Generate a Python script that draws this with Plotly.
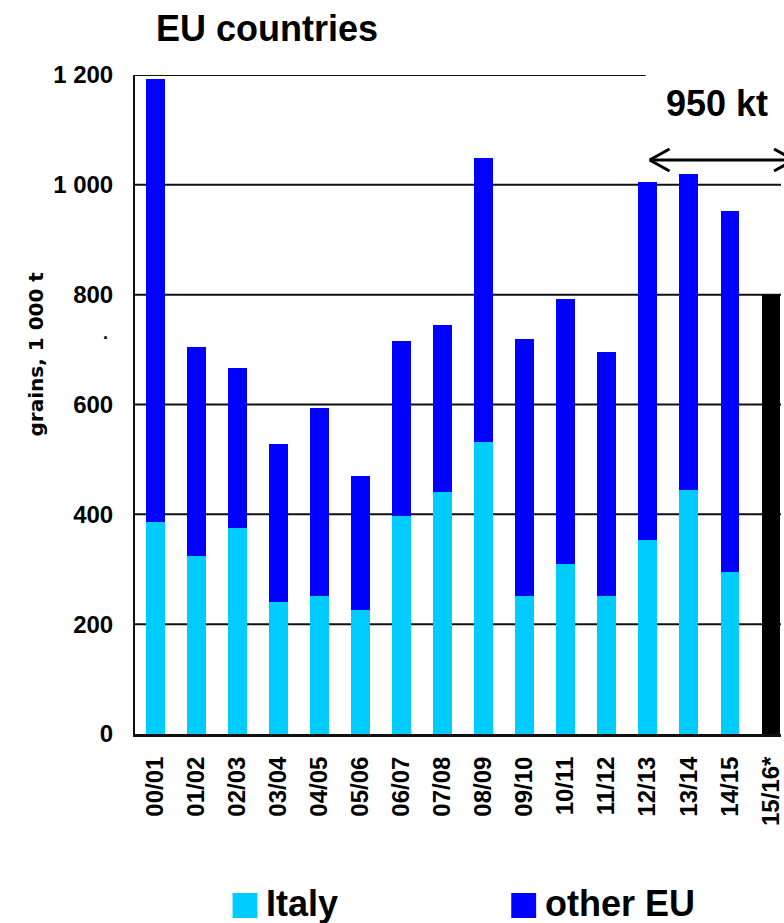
import plotly.graph_objects as go

# Marketing years and grain volumes (1 000 t)
seasons = ["00/01", "01/02", "02/03", "03/04", "04/05", "05/06", "06/07", "07/08",
           "08/09", "09/10", "10/11", "11/12", "12/13", "13/14", "14/15"]
italy = [386, 324, 375, 240, 251, 225, 397, 440, 531, 251, 309, 251, 353, 444, 295]
eu_total = [1192, 704, 666, 528, 593, 469, 715, 745, 1049, 719, 792, 695, 1005, 1020, 952]
other_eu = [t - i for t, i in zip(eu_total, italy)]

forecast_season = ["15/16*"]
forecast_total = [800]

y_ticks = [0, 200, 400, 600, 800, 1000, 1200]
y_tick_text = ["0", "200", "400", "600", "800", "1 000", "1 200"]

W, H = 784, 923
L, R, T, B = 135, 784, 75, 734   # plot area in canvas pixels

FONT = "Liberation Sans, Arial, sans-serif"
C_ITALY = "#00CCFF"
C_OTHER = "#0000FF"


def px(x):
    return (x - L) / (R - L)


def py(y):
    return (B - y) / (B - T)


def label(text, x, y, size, family=FONT, xanchor="center", angle=0):
    return dict(text=text, x=px(x), y=py(y), xref="paper", yref="paper",
                xanchor=xanchor, yanchor="middle", textangle=angle, showarrow=False,
                font=dict(family=family, size=size, color="#000", weight="bold"))


fig = go.Figure()
fig.add_trace(go.Bar(x=seasons, y=italy, name="Italy", marker_color=C_ITALY,
                     marker_line_width=0, width=0.45))
fig.add_trace(go.Bar(x=seasons, y=other_eu, name="other EU", marker_color=C_OTHER,
                     marker_line_width=0, width=0.45))
fig.add_trace(go.Bar(x=forecast_season, y=forecast_total, name="forecast",
                     marker_color="#000000", marker_line_width=0, width=0.45))

shapes = []
# horizontal grid lines (top one stops short of the 950 kt label)
for v in y_ticks[1:-1]:
    shapes.append(dict(type="line", xref="paper", yref="y", x0=0, x1=1, y0=v, y1=v,
                       line=dict(color="#111111", width=2), layer="below"))
shapes.append(dict(type="line", xref="paper", yref="y", x0=0, x1=px(648),
                   y0=y_ticks[-1], y1=y_ticks[-1],
                   line=dict(color="#111111", width=2), layer="below"))

# double-headed arrow spanning the recent seasons
ay = py(160)
arm = dict(color="#000000", width=3)
shapes.append(dict(type="line", xref="paper", yref="paper", x0=px(653), x1=px(797),
                   y0=ay, y1=ay, line=arm))
for tip, back in ((652, 672), (797, 777)):
    for dy in (-11, 11):
        shapes.append(dict(type="line", xref="paper", yref="paper",
                           x0=px(tip), y0=ay, x1=px(back), y1=py(160 + dy), line=arm))

# legend swatches
shapes.append(dict(type="rect", xref="paper", yref="paper", x0=px(233), x1=px(258),
                   y0=py(918), y1=py(893), fillcolor=C_ITALY, line_width=0))
shapes.append(dict(type="rect", xref="paper", yref="paper", x0=px(513), x1=px(538),
                   y0=py(918), y1=py(893), fillcolor=C_OTHER, line_width=0))

annotations = [
    label("EU countries", 268, 28, 36),
    label("950 kt", 720, 104, 36),
    label("grains, 1 000 t", 36, 354, 20, family="DejaVu Sans, sans-serif", angle=-90),
    label(".", 105, 333, 18),
    label("Italy", 265, 903, 36, xanchor="left"),
    label("other EU", 545, 903, 36, xanchor="left"),
]

fig.update_layout(
    width=W, height=H,
    margin=dict(l=L, r=W - R, t=T, b=H - B, pad=0),
    barmode="stack",
    showlegend=False,
    plot_bgcolor="#FFFFFF", paper_bgcolor="#FFFFFF",
    shapes=shapes,
    annotations=annotations,
    xaxis=dict(
        type="category",
        categoryorder="array", categoryarray=seasons + forecast_season,
        range=[-0.5, 15.25],
        tickangle=-90,
        tickfont=dict(family=FONT, size=24, color="#000", weight="bold"),
        showgrid=False, zeroline=False,
        showline=True, linecolor="#111111", linewidth=3,
        ticks="", ticklabelstandoff=10,
        fixedrange=True,
    ),
    yaxis=dict(
        range=[0, 1200],
        tickvals=y_ticks, ticktext=y_tick_text,
        tickfont=dict(family=FONT, size=24, color="#000", weight="bold"),
        showgrid=False, zeroline=False,
        showline=True, linecolor="#111111", linewidth=2,
        ticks="", ticklabelstandoff=15,
        fixedrange=True,
    ),
)

fig.write_html("out.html")
